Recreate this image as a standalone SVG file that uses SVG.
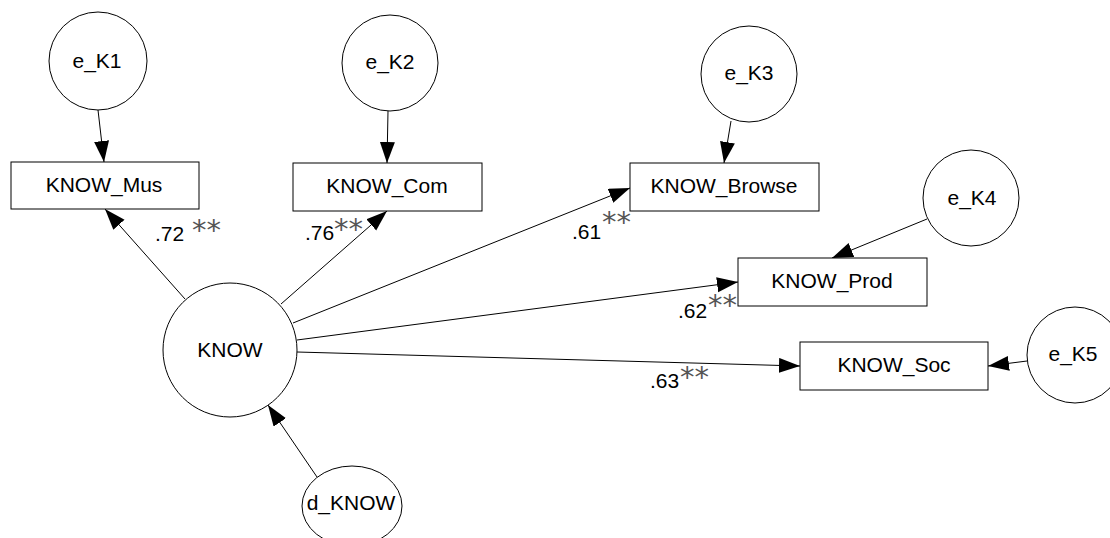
<svg xmlns="http://www.w3.org/2000/svg" width="1110" height="538" viewBox="0 0 1110 538">
  <style>
    .node { fill: #ffffff; stroke: #000000; stroke-width: 1; }
    .label { font-family: "Liberation Sans", Arial, sans-serif; font-size: 21px; fill: #000000; text-anchor: middle; }
    .coef { font-family: "Liberation Sans", Arial, sans-serif; font-size: 21px; fill: #000000; }
    .sig { font-family: "DejaVu Sans", sans-serif; font-size: 29px; fill: #555555; }
    .path { stroke: #000000; stroke-width: 1; fill: none; marker-end: url(#head); }
  </style>
  <defs>
    <marker id="head" markerUnits="userSpaceOnUse" markerWidth="22" markerHeight="16" refX="21" refY="7.5" orient="auto">
      <path d="M0,0 L21,7.5 L0,15 Z" fill="#000000"/>
    </marker>
  </defs>
  <rect width="1110" height="538" fill="#ffffff"/>

  <!-- paths between variables -->
  <g id="connectors">
    <line class="path" x1="98" y1="110" x2="104" y2="162"/>
    <line class="path" x1="388" y1="111" x2="387" y2="163"/>
    <line class="path" x1="731" y1="121" x2="724" y2="163"/>
    <line class="path" x1="927" y1="219" x2="832" y2="258"/>
    <line class="path" x1="1027" y1="361" x2="988" y2="366"/>
    <line class="path" x1="185" y1="299" x2="105" y2="209"/>
    <line class="path" x1="281" y1="304" x2="387" y2="211"/>
    <line class="path" x1="293" y1="323" x2="630" y2="188"/>
    <line class="path" x1="297" y1="340" x2="738" y2="282"/>
    <line class="path" x1="297" y1="352" x2="800" y2="366"/>
    <line class="path" x1="317" y1="477" x2="268" y2="405"/>
  </g>

  <!-- error terms -->
  <g id="e_K1"><circle class="node" cx="98" cy="61" r="49"/><text class="label" x="97" y="68">e_K1</text></g>
  <g id="e_K2"><circle class="node" cx="390" cy="63" r="48"/><text class="label" x="390" y="69">e_K2</text></g>
  <g id="e_K3"><circle class="node" cx="749" cy="74" r="48"/><text class="label" x="749" y="80">e_K3</text></g>
  <g id="e_K4"><circle class="node" cx="971" cy="198" r="48"/><text class="label" x="972" y="205">e_K4</text></g>
  <g id="e_K5"><circle class="node" cx="1075" cy="355" r="48"/><text class="label" x="1073" y="361">e_K5</text></g>

  <!-- latent factor and disturbance -->
  <g id="KNOW"><circle class="node" cx="230" cy="350" r="67"/><text class="label" x="230" y="357">KNOW</text></g>
  <g id="d_KNOW"><ellipse class="node" cx="352" cy="506" rx="50" ry="40"/><text class="label" x="351" y="510">d_KNOW</text></g>

  <!-- observed indicators -->
  <g id="KNOW_Mus"><rect class="node" x="11" y="162" width="188" height="47"/><text class="label" x="104" y="192">KNOW_Mus</text></g>
  <g id="KNOW_Com"><rect class="node" x="293" y="163" width="189" height="48"/><text class="label" x="387" y="193">KNOW_Com</text></g>
  <g id="KNOW_Browse"><rect class="node" x="630" y="163" width="189" height="48"/><text class="label" x="724" y="193">KNOW_Browse</text></g>
  <g id="KNOW_Prod"><rect class="node" x="738" y="258" width="189" height="48"/><text class="label" x="832" y="288">KNOW_Prod</text></g>
  <g id="KNOW_Soc"><rect class="node" x="800" y="342" width="188" height="48"/><text class="label" x="894" y="372">KNOW_Soc</text></g>

  <!-- standardized loadings -->
  <g id="loadings">
    <text class="coef" x="155" y="241">.72</text><text class="sig" x="192" y="240">**</text>
    <text class="coef" x="305" y="240">.76</text><text class="sig" x="334" y="239">**</text>
    <text class="coef" x="572" y="239">.61</text><text class="sig" x="602" y="232">**</text>
    <text class="coef" x="678" y="318">.62</text><text class="sig" x="708" y="315">**</text>
    <text class="coef" x="650" y="388">.63</text><text class="sig" x="680" y="387">**</text>
  </g>
</svg>
